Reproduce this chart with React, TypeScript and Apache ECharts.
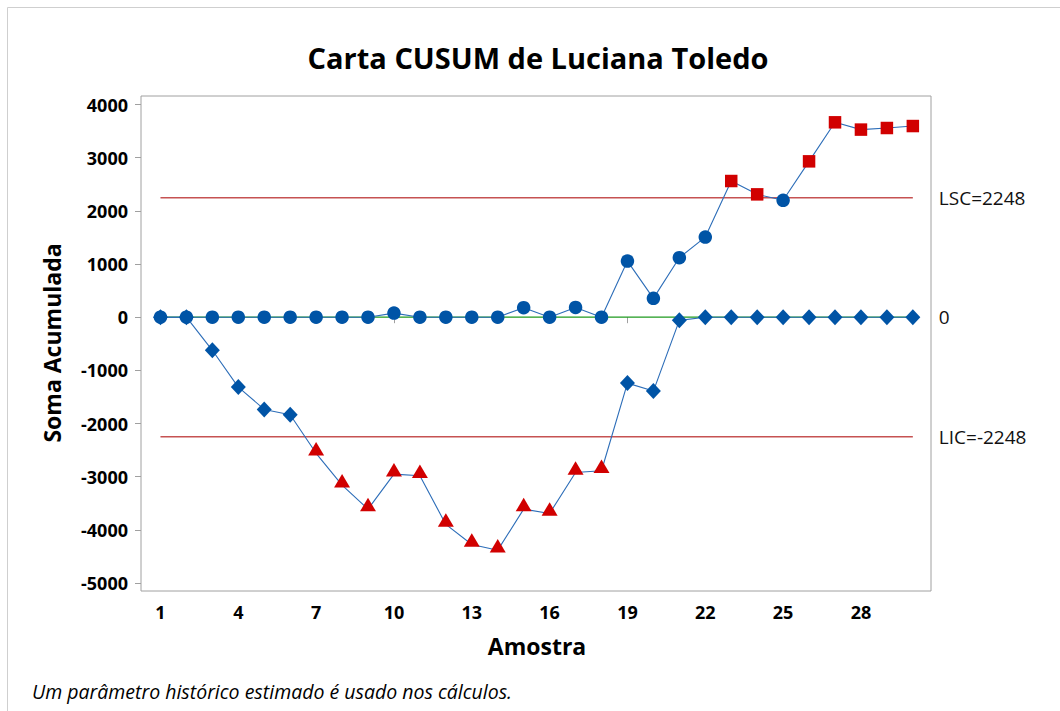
import React, { useEffect, useRef } from "react";
import * as echarts from "echarts";

const samples = [1, 2, 3, 4, 5, 6, 7, 8, 9, 10, 11, 12, 13, 14, 15, 16, 17, 18, 19, 20, 21, 22, 23, 24, 25, 26, 27, 28, 29, 30];
const upperCusum = [0, 0, 0, 0, 0, 0, 0, 0, 0, 77, 0, 0, 0, 0, 179, 0, 184, 0, 1055, 354, 1119, 1507, 2561, 2310, 2198, 2931, 3665, 3528, 3558, 3595];
const lowerCusum = [0, 0, -623, -1315, -1735, -1835, -2560, -3159, -3610, -2952, -2982, -3898, -4275, -4382, -3610, -3691, -2920, -2888, -1240, -1390, -60, 0, 0, 0, 0, 0, 0, 0, 0, 0];
const LSC = 2248;
const LIC = -2248;
const CENTER = 0;
const xTicks = [1, 4, 7, 10, 13, 16, 19, 22, 25, 28];
const yTicks = [-5000, -4000, -3000, -2000, -1000, 0, 1000, 2000, 3000, 4000];

const FONT = "'Open Sans', 'Noto Sans', sans-serif";
const BLUE = "#0054a6";
const RED = "#d10000";
const LINE_BLUE = "#2c6db8";

export default function App() {
  const ref = useRef<HTMLDivElement>(null);
  useEffect(() => {
    if (!ref.current) return;
    const chart = echarts.init(ref.current, null, { renderer: "svg" });
    const first = samples[0];
    const last = samples[samples.length - 1];

    const upperData = samples.map((s, i) => {
      const v = upperCusum[i];
      const out = v > LSC;
      return {
        value: [s, v],
        symbol: out ? "rect" : "circle",
        symbolSize: out ? [12.5, 12.5] : 13.5,
        itemStyle: { color: out ? RED : BLUE },
      };
    });
    const lowerData = samples.map((s, i) => {
      const v = lowerCusum[i];
      const out = v < LIC;
      return {
        value: [s, v],
        symbol: out ? "triangle" : "diamond",
        symbolSize: out ? [16, 13.5] : [15, 16],
        symbolOffset: out ? [0, -4.5] : [0, 0],
        itemStyle: { color: out ? RED : BLUE },
      };
    });

    const refLine = (name: string, v: number, color: string, label: string, width: number) => ({
      name,
      type: "line",
      data: [[first, v], [last, v]],
      symbol: "none",
      silent: true,
      lineStyle: { color, width },
      z: 1,
      endLabel: {
        show: true,
        formatter: label,
        distance: 26,
        color: "#111",
        fontFamily: FONT,
        fontSize: 19,
      },
    });

    chart.setOption({
      animation: false,
      backgroundColor: "#ffffff",
      grid: {
        left: 141,
        right: 129,
        top: 96,
        bottom: 120,
        show: true,
        borderColor: "#a0a0a0",
        borderWidth: 1,
        backgroundColor: "transparent",
      },
      xAxis: {
        type: "value",
        min: 0.25,
        max: 30.7,
        axisLine: { show: false },
        splitLine: { show: false },
        axisTick: { show: true, customValues: xTicks, length: 6, lineStyle: { color: "#a0a0a0" } },
        axisLabel: {
          customValues: xTicks,
          margin: 12,
          color: "#000",
          fontFamily: FONT,
          fontSize: 18,
          fontWeight: "bold",
          formatter: (v: number) => String(v),
        },
      },
      yAxis: {
        type: "value",
        min: -5150,
        max: 4160,
        axisLine: { show: false },
        splitLine: { show: false },
        axisTick: { show: true, customValues: yTicks, length: 6, lineStyle: { color: "#a0a0a0" } },
        axisLabel: {
          customValues: yTicks,
          margin: 13,
          color: "#000",
          fontFamily: FONT,
          fontSize: 18,
          fontWeight: "bold",
          formatter: (v: number) => String(v),
        },
      },
      graphic: [
        {
          type: "rect",
          silent: true,
          shape: { x: 7.5, y: 7.5, width: 1200, height: 1000 },
          style: { fill: "none", stroke: "#cfcfcf", lineWidth: 1 },
          z: -10,
        },
        {
          type: "text",
          x: 538,
          y: 57,
          style: {
            text: "Carta CUSUM de Luciana Toledo",
            textAlign: "center",
            textVerticalAlign: "middle",
            fontFamily: FONT,
            fontSize: 29,
            fontWeight: "bold",
            fill: "#000",
          },
        },
        {
          type: "text",
          x: 52,
          y: 343,
          rotation: Math.PI / 2,
          style: {
            text: "Soma Acumulada",
            textAlign: "center",
            textVerticalAlign: "middle",
            fontFamily: FONT,
            fontSize: 23,
            fontWeight: "bold",
            fill: "#000",
          },
        },
        {
          type: "text",
          x: 537,
          y: 646,
          style: {
            text: "Amostra",
            textAlign: "center",
            textVerticalAlign: "middle",
            fontFamily: FONT,
            fontSize: 23,
            fontWeight: "bold",
            fill: "#000",
          },
        },
        {
          type: "text",
          x: 32,
          y: 691,
          style: {
            text: "Um parâmetro histórico estimado é usado nos cálculos.",
            textAlign: "left",
            textVerticalAlign: "middle",
            fontFamily: FONT,
            fontSize: 19.5,
            fontStyle: "italic",
            fill: "#000",
          },
        },
      ],
      series: [
        refLine("Centro", CENTER, "#1e9a1e", "0", 1.2),
        refLine("LSC", LSC, "#c65252", "LSC=2248", 1.5),
        refLine("LIC", LIC, "#c65252", "LIC=-2248", 1.5),
        {
          name: "CUSUM superior",
          type: "line",
          data: upperData,
          lineStyle: { color: LINE_BLUE, width: 1.1 },
          z: 3,
        },
        {
          name: "CUSUM inferior",
          type: "line",
          data: lowerData,
          lineStyle: { color: LINE_BLUE, width: 1.1 },
          z: 4,
        },
      ],
    });
    return () => chart.dispose();
  }, []);
  return (
    <div
      ref={ref}
      style={{ position: "absolute", left: 0, top: 0, width: 1060, height: 711 }}
    />
  );
}
